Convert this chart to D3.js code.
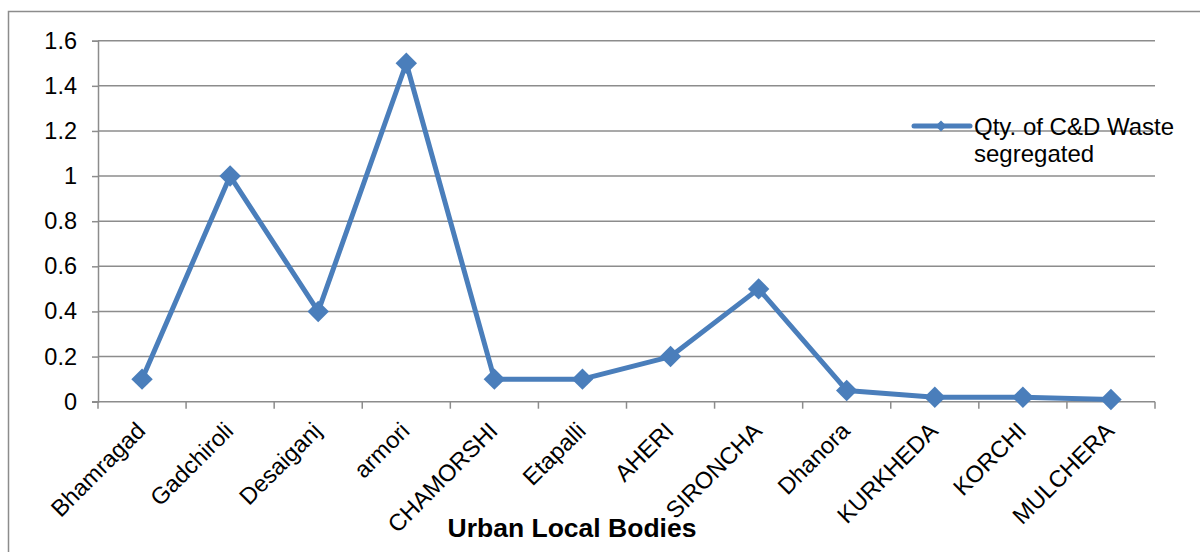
<!DOCTYPE html>
<html>
<head>
<meta charset="utf-8">
<script src="https://cdn.jsdelivr.net/npm/d3@7"></script>
<style>
  html, body { margin: 0; padding: 0; background: #fff; }
  svg { display: block; font-family: "Liberation Sans", Arial, sans-serif; }
</style>
</head>
<body>
<svg id="chart" width="1200" height="552"></svg>
<script>
// Urban local bodies and quantity of C&D waste segregated
const categories = ["Bhamragad", "Gadchiroli", "Desaiganj", "armori", "CHAMORSHI", "Etapalli",
                    "AHERI", "SIRONCHA", "Dhanora", "KURKHEDA", "KORCHI", "MULCHERA"];
const wasteSegregated = [0.1, 1.0, 0.4, 1.5, 0.1, 0.1, 0.2, 0.5, 0.05, 0.02, 0.02, 0.01];
const yTicks = [0, 0.2, 0.4, 0.6, 0.8, 1, 1.2, 1.4, 1.6];
const seriesName = ["Qty. of C&D Waste", "segregated"];
const axisTitle = "Urban Local Bodies";

const svg = d3.select("#chart");
const W = 1200, H = 552;
const plot = { left: 98, right: 1155, top: 40.7, bottom: 401.7 };
const gridColor = "#8c8c8c";
const lineColor = "#4a7ebb";
const fontSize = "23.5px";

// Outer chart frame
svg.append("path")
  .attr("d", `M8.5,${H + 2} V11.5 H${W + 2}`)
  .attr("fill", "none")
  .attr("stroke", "#8c8c8c")
  .attr("stroke-width", 1.5);

const x = d3.scaleBand().domain(categories).range([plot.left, plot.right]);
const y = d3.scaleLinear().domain([0, 1.6]).range([plot.bottom, plot.top]);

// Horizontal gridlines
svg.append("g")
  .selectAll("line")
  .data(yTicks.filter(d => d > 0))
  .join("line")
  .attr("x1", plot.left).attr("x2", plot.right)
  .attr("y1", d => y(d)).attr("y2", d => y(d))
  .attr("stroke", gridColor).attr("stroke-width", 1.5);

// Y axis
const yAxis = svg.append("g")
  .attr("transform", `translate(${plot.left},0)`)
  .call(d3.axisLeft(y).tickValues(yTicks).tickSize(6).tickPadding(15).tickFormat(d3.format("~g")));
yAxis.select(".domain").attr("stroke", gridColor).attr("stroke-width", 1.5);
yAxis.selectAll(".tick line").attr("stroke", gridColor).attr("stroke-width", 1.5);
yAxis.selectAll(".tick text")
  .attr("fill", "#000")
  .style("font-size", fontSize)
  .style("font-family", "'Liberation Sans', Arial, sans-serif");

// X axis with ticks on band boundaries
const xAxisG = svg.append("g");
xAxisG.append("line")
  .attr("x1", plot.left - 6).attr("x2", plot.right)
  .attr("y1", plot.bottom).attr("y2", plot.bottom)
  .attr("stroke", gridColor).attr("stroke-width", 1.5);
const boundaries = categories.map(c => x(c)).concat([x(categories[categories.length - 1]) + x.bandwidth()]);
xAxisG.selectAll("line.tk")
  .data(boundaries)
  .join("line")
  .attr("class", "tk")
  .attr("x1", d => d).attr("x2", d => d)
  .attr("y1", plot.bottom).attr("y2", plot.bottom + 7)
  .attr("stroke", gridColor).attr("stroke-width", 1.5);

// Rotated category labels
svg.append("g")
  .selectAll("text")
  .data(categories)
  .join("text")
  .attr("transform", d => `translate(${x(d) + x.bandwidth() / 2 - 7},${plot.bottom + 19}) rotate(-45)`)
  .attr("text-anchor", "end")
  .attr("dy", "0.7em")
  .attr("fill", "#000")
  .style("font-size", fontSize)
  .text(d => d);

// Axis title
svg.append("text")
  .attr("x", 572).attr("y", 537)
  .attr("text-anchor", "middle")
  .attr("fill", "#000")
  .style("font-size", "26.5px")
  .style("font-weight", "bold")
  .text(axisTitle);

// Series line
const cx = d => x(d) + x.bandwidth() / 2;
const line = d3.line()
  .x((d, i) => cx(categories[i]))
  .y(d => y(d));
svg.append("path")
  .datum(wasteSegregated)
  .attr("d", line)
  .attr("fill", "none")
  .attr("stroke", lineColor)
  .attr("stroke-width", 5)
  .attr("stroke-linejoin", "round");

// Diamond markers
const diamond = d3.symbol().type(d3.symbolSquare).size(230);
svg.append("g")
  .selectAll("path")
  .data(wasteSegregated)
  .join("path")
  .attr("transform", (d, i) => `translate(${cx(categories[i])},${y(d)}) rotate(45)`)
  .attr("d", diamond)
  .attr("fill", lineColor);

// Legend
const lg = svg.append("g");
lg.append("line")
  .attr("x1", 914).attr("x2", 970)
  .attr("y1", 126).attr("y2", 126)
  .attr("stroke", lineColor).attr("stroke-width", 5)
  .attr("stroke-linecap", "round");
lg.append("path")
  .attr("transform", "translate(941,126) rotate(45)")
  .attr("d", d3.symbol().type(d3.symbolSquare).size(60))
  .attr("fill", lineColor);
lg.selectAll("text")
  .data(seriesName)
  .join("text")
  .attr("x", 974)
  .attr("y", (d, i) => 135 + i * 27)
  .attr("fill", "#000")
  .style("font-size", "24px")
  .text(d => d);
</script>
</body>
</html>
